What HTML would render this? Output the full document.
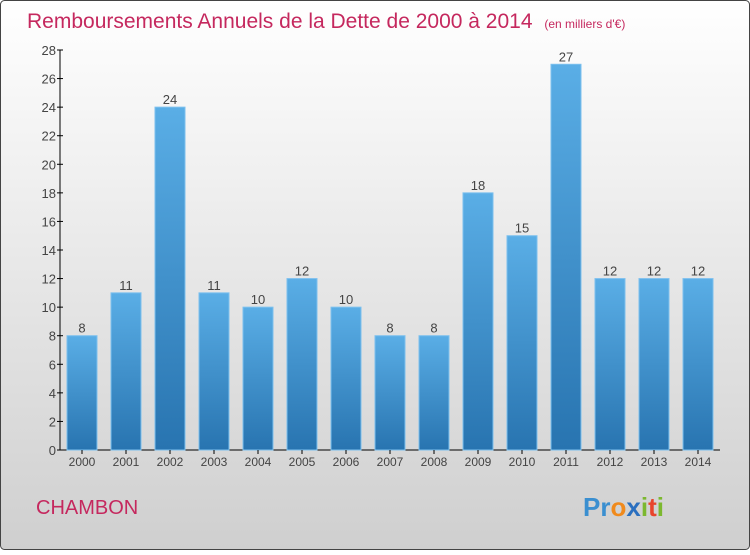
<!DOCTYPE html>
<html><head><meta charset="utf-8"><style>
body{margin:0;}
svg text{font-family:"Liberation Sans",sans-serif;}
</style></head><body>
<svg width="750" height="550" viewBox="0 0 750 550">
<defs>
<linearGradient id="bg" x1="0" y1="0" x2="0" y2="1"><stop offset="0" stop-color="#ffffff"/><stop offset="1" stop-color="#cfcfcf"/></linearGradient>
<linearGradient id="bar" x1="0" y1="0" x2="0" y2="1"><stop offset="0" stop-color="#5aaee6"/><stop offset="1" stop-color="#2874b0"/></linearGradient>
</defs>
<rect x="0.5" y="0.5" width="749" height="549" rx="4" fill="url(#bg)" stroke="#444"/>
<text x="27" y="28" font-size="21" fill="#c5285e">Remboursements Annuels de la Dette de 2000 à 2014 <tspan font-size="12" dx="6">(en milliers d'€)</tspan></text>
<text x="36" y="514" font-size="20" fill="#c5285e">CHAMBON</text>
<text x="583" y="516" font-size="26" font-weight="bold"><tspan fill="#3a8fd0">Pr</tspan><tspan fill="#f08a1c">o</tspan><tspan fill="#2a6fbf">x</tspan><tspan fill="#7cb82f">i</tspan><tspan fill="#e8452c">t</tspan><tspan fill="#7cb82f">i</tspan></text>
<g id="plot"></g>
</svg>
<script>
const years=["2000","2001","2002","2003","2004","2005","2006","2007","2008","2009","2010","2011","2012","2013","2014"];
const values=[8,11,24,11,10,12,10,8,8,18,15,27,12,12,12];
const yTicks=[0,2,4,6,8,10,12,14,16,18,20,22,24,26,28];
const NS="http://www.w3.org/2000/svg";
const g=document.getElementById('plot');
const y0=450,yTop=50,yMax=28,x0=60,step=44,bw=30;
const Y=v=>y0-(v/yMax)*(y0-yTop);
const X=i=>82+i*step;
function mk(t,a){const e=document.createElementNS(NS,t);for(const k in a)e.setAttribute(k,a[k]);g.appendChild(e);return e;}
let ax=mk('line',{x1:x0,y1:yTop,x2:x0,y2:y0,stroke:'#000'});


let bx=mk('line',{x1:x0,y1:y0,x2:720,y2:y0,stroke:'#000'});


yTicks.forEach(t=>{
 const tk=mk('line',{x1:x0-3,y1:Y(t),x2:x0+3,y2:Y(t),stroke:'#000'});
 
 
 const tl=mk('text',{x:x0-4,y:Y(t)+5,'font-size':13,'text-anchor':'end',fill:'#444'});
 tl.textContent=t;
 
 
});
years.forEach((yr,i)=>{
 const v=values[i];
 const r=mk('rect',{x:X(i)-bw/2,y:Y(v),width:bw,height:y0-Y(v),fill:'url(#bar)',stroke:'#7cc0ee','stroke-width':1});
 
 
 const tk=mk('line',{x1:X(i),y1:y0,x2:X(i),y2:y0+4,stroke:'#000'});
 
 
 const xl=mk('text',{x:X(i),y:y0+16,'font-size':12,'text-anchor':'middle',fill:'#444'});
 xl.textContent=yr;
 
 
 const vl=mk('text',{x:X(i),y:Y(v)-3,'font-size':13,'text-anchor':'middle',fill:'#444'});
 vl.textContent=v;
 
 
});
</script>
</body></html>
